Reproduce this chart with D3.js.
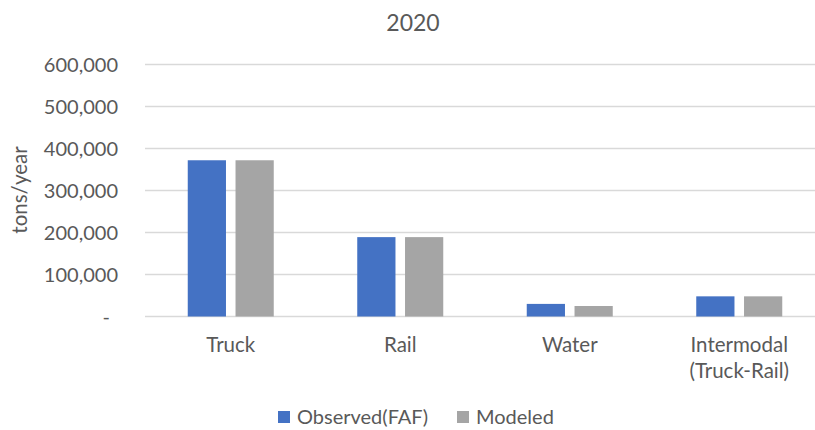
<!DOCTYPE html>
<html lang="en">
<head>
    <meta charset="UTF-8">
    <title>2020 tons/year by mode</title>
    <script src="https://d3js.org/d3.v7.min.js"></script>
    <style>
        body { margin: 0; background: #fff; }
        svg { display: block; }
        text { font-family: Lato, "Open Sans", sans-serif; fill: #595959; }
    </style>
</head>
<body>
    <svg></svg>
    <script>
        const categories = ["Truck", "Rail", "Water", "Intermodal\n(Truck-Rail)"];
        const seriesNames = ["Observed(FAF)", "Modeled"];
        const observed = [372000, 189000, 30000, 48000];
        const modeled = [372000, 189000, 25000, 48000];
        const yTicks = [0, 100000, 200000, 300000, 400000, 500000, 600000];
        const colors = ["#4472c4", "#a5a5a5"];

        const width = 815, height = 430;
        const svg = d3.select("svg").attr("width", width).attr("height", height);

        const x0 = d3.scaleBand().domain(categories).range([146, 824]);
        const x1 = d3.scaleBand().domain(seriesNames).range([0, 86]).paddingInner(0.2);
        const y = d3.scaleLinear().domain([0, 600000]).range([316.5, 64.5]);

        // gridlines
        svg.append("g")
            .selectAll("line")
            .data(yTicks)
            .enter().append("line")
            .attr("x1", 145).attr("x2", width)
            .attr("y1", d => y(d)).attr("y2", d => y(d))
            .attr("stroke", "#d9d9d9")
            .attr("stroke-width", 1.5);

        // y tick labels (zero shown as a dash, accounting style)
        const fmt = d3.format(",");
        svg.append("g")
            .selectAll("text")
            .data(yTicks)
            .enter().append("text")
            .attr("x", d => d === 0 ? 110 : 118)
            .attr("y", d => y(d) + 7.5)
            .attr("text-anchor", "end")
            .style("font-size", "20px")
            .text(d => d === 0 ? "-" : fmt(d));

        // bars
        const rows = categories.map((c, i) => ({ cat: c, vals: [observed[i], modeled[i]] }));
        const groups = svg.append("g")
            .selectAll("g")
            .data(rows)
            .enter().append("g")
            .attr("transform", d => `translate(${x0(d.cat) + (x0.bandwidth() - 86) / 2},0)`);

        groups.selectAll("rect")
            .data(d => d.vals.map((v, j) => ({ name: seriesNames[j], v, j })))
            .enter().append("rect")
            .attr("x", d => x1(d.name))
            .attr("width", x1.bandwidth())
            .attr("y", d => y(d.v))
            .attr("height", d => y(0) - y(d.v))
            .attr("fill", d => colors[d.j]);

        // category labels
        const catText = svg.append("g")
            .selectAll("text")
            .data(categories)
            .enter().append("text")
            .attr("text-anchor", "middle")
            .style("font-size", "20.5px")
            .attr("transform", d => `translate(${x0(d) + x0.bandwidth() / 2},352)`);
        catText.selectAll("tspan")
            .data(d => d.split("\n"))
            .enter().append("tspan")
            .attr("x", 0)
            .attr("dy", (d, i) => i === 0 ? 0 : 26)
            .text(d => d);

        // title
        svg.append("text")
            .attr("x", 413).attr("y", 31)
            .attr("text-anchor", "middle")
            .style("font-size", "23px")
            .text("2020");

        // y axis title
        svg.append("text")
            .attr("transform", "translate(27,190) rotate(-90)")
            .attr("text-anchor", "middle")
            .style("font-size", "20.5px")
            .text("tons/year");

        // legend
        const legendX = [278, 457];
        const legend = svg.append("g")
            .selectAll("g")
            .data(seriesNames)
            .enter().append("g")
            .attr("transform", (d, i) => `translate(${legendX[i]},411)`);
        legend.append("rect")
            .attr("width", 12).attr("height", 12)
            .attr("fill", (d, i) => colors[i]);
        legend.append("text")
            .attr("x", 19).attr("y", 12.5)
            .style("font-size", "20px")
            .text(d => d);
    </script>
</body>
</html>
